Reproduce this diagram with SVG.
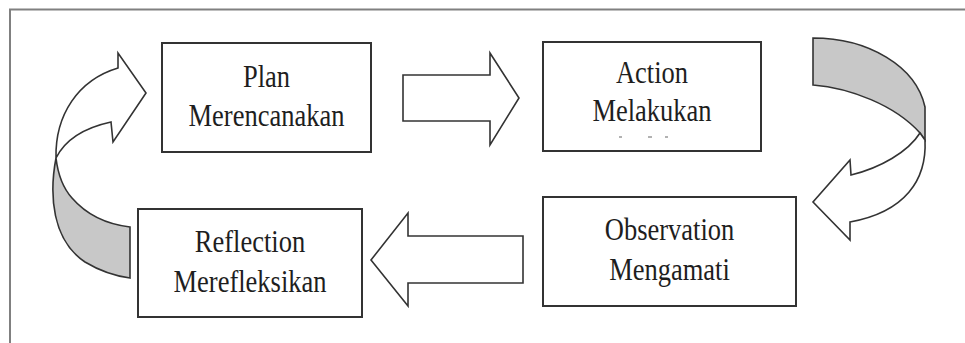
<svg xmlns="http://www.w3.org/2000/svg" width="965" height="343" viewBox="0 0 965 343">
<style>
.box{fill:#fff;stroke:#333;stroke-width:2}
.arr{fill:#fff;stroke:#333;stroke-width:1.6;stroke-linejoin:miter}
.band{fill:#c8c8c8;stroke:#333;stroke-width:1.6}
.t{font-family:"Liberation Serif","Times New Roman",serif;font-size:26.5px;fill:#1e1e1e;text-anchor:middle}
</style>
<rect width="965" height="343" fill="#fff"/>
<path d="M10,343 L10,9.5 L965,9.5" fill="none" stroke="#808080" stroke-width="2"/>
<g id="connectors">
<path class="arr" d="M403,75 L490,75 L490,53 L519,98 L490,145 L490,121 L403,121 Z"/>
<path class="arr" d="M523,236 L408,236 L408,213 L371,260 L408,306 L408,283 L523,283 Z"/>
<path class="band" d="M56,158 C49,195 52,240 85,262 C100,271 115,276 130,278 L130,227 C105,224 85,213 72,198 C63,188 58,175 56,158 Z"/>
<path class="arr" d="M56,158 C55,115 78,80 118,68 L118,53 L146,93 L113,142 L111,122 C88,127 66,138 56,158 Z"/>
<path class="band" d="M813,38 C868,38 916,66 925,107 L925,140 L920,133 C895,105 850,88 813,85 Z"/>
<path class="arr" d="M920,133 L925,140 C927,180 905,212 850,222 L850,240 L813,202 L850,160 L851,175 C880,168 908,152 920,133 Z"/>
</g>
<g id="plan">
<rect class="box" x="162" y="43" width="209" height="109"/>
<text class="t" transform="translate(266.5,87) scale(1,1.2)">Plan</text>
<text class="t" transform="translate(266.5,126) scale(1,1.2)">Merencanakan</text>
</g>
<g id="action">
<rect class="box" x="543" y="42" width="218" height="109"/>
<text class="t" transform="translate(652,83) scale(1,1.2)">Action</text>
<text class="t" transform="translate(652,121) scale(1,1.2)">Melakukan</text>
<path d="M619,137h3M648,137h4M665,137h3" stroke="#999" stroke-width="1.5"/>
</g>
<g id="observation">
<rect class="box" x="543" y="197" width="253" height="109"/>
<text class="t" transform="translate(669.5,240) scale(1,1.2)">Observation</text>
<text class="t" transform="translate(669.5,280) scale(1,1.2)">Mengamati</text>
</g>
<g id="reflection">
<rect class="box" x="138" y="209" width="224" height="108"/>
<text class="t" transform="translate(250,252) scale(1,1.2)">Reflection</text>
<text class="t" transform="translate(250,292) scale(1,1.2)">Merefleksikan</text>
</g>
</svg>
